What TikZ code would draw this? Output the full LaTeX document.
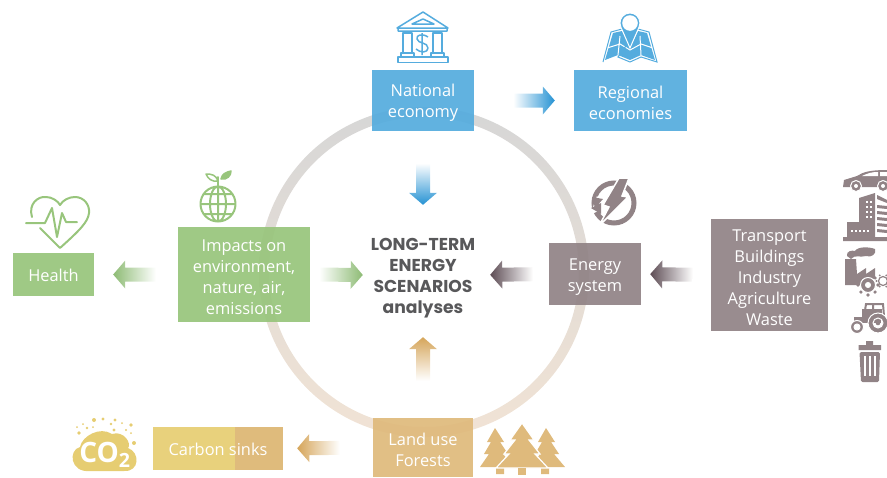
\documentclass[tikz,border=0pt]{standalone}
\usepackage{fontspec}
\setmainfont{Open Sans}
\newfontfamily\titlefont{Poppins}
\usetikzlibrary{calc}
\newcommand{\lift}[1]{\rule{0pt}{#1pt}}
\definecolor{blueBox}{HTML}{55ACDE}
\definecolor{blueFlow}{HTML}{2592D3}
\definecolor{greenBox}{HTML}{98C57C}
\definecolor{greenFlow}{HTML}{8DBB74}
\definecolor{greyBox}{HTML}{918386}
\definecolor{greyFlow}{HTML}{5E4D55}
\definecolor{tanBox}{HTML}{DFBA7C}
\definecolor{tanFlow}{HTML}{D5A55A}
\definecolor{yellowBox}{HTML}{E6CD72}
\definecolor{titleInk}{HTML}{58585A}
\tikzset{
  box/.style={fill opacity=.93,text opacity=1,text=white,align=center,inner sep=0pt,
    font=\fontsize{16.4}{21}\selectfont},
  flowleft/.style={left color=#1,right color=white},
  flowright/.style={right color=#1,left color=white},
  flowdown/.style={bottom color=#1,top color=white},
  flowup/.style={top color=#1,bottom color=white},
  flowarrow/.style n args={3}{to path={\pgfextra{
    \coordinate (ft) at ($(\tikztostart)!#1pt!(\tikztotarget)$);
    \coordinate (fh) at ($(\tikztotarget)!#2pt!(\tikztostart)$);
    \coordinate (fn) at ($(fh)!12pt!(ft)$);
    \shade[#3] ($(ft)!7pt!90:(fh)$) -- ($(fn)!7pt!90:(fh)$) -- ($(fn)!14pt!90:(fh)$) -- (fh)
      -- ($(fn)!14pt!-90:(fh)$) -- ($(fn)!7pt!-90:(fh)$) -- ($(ft)!7pt!-90:(fh)$) -- cycle;
  }}},
  blueline/.style={draw=blueBox,line width=1.5pt,line join=round,fill=none},
  greenline/.style={draw=greenBox,line width=2pt,line join=round,line cap=round,fill=none},
  greyshape/.style={fill=greyBox,draw=none},
  tanshape/.style={fill=tanBox,draw=none},
}
\begin{document}
\begin{tikzpicture}[x=1pt,y=-1pt]
  \useasboundingbox (0,0) rectangle (887,477);
  % ring behind the boxes
  \shade[top color=black!16,bottom color=brown!22!white,even odd rule]
    (424,272) circle (165) (424,272) circle (155);

  \node[box,fill=blueBox,minimum width=102pt,minimum height=61pt] (national) at (423,100.5) {\lift{17.5}National\\economy};
  \node[box,fill=blueBox,minimum width=113pt,minimum height=61pt] (regional) at (630.5,100.5) {\lift{17.5}Regional\\economies};
  \node[box,fill=greenBox,minimum width=132pt,minimum height=95pt] (impacts) at (244,274.5) {\lift{17.5}Impacts on\\environment,\\nature, air,\\emissions};
  \node[box,fill=greenBox,minimum width=81pt,minimum height=43pt] (health) at (53.5,274.5) {\lift{15}Health};
  \node[box,fill=greyBox,minimum width=92pt,minimum height=62pt] (energy) at (595,274) {\lift{17.5}Energy\\system};
  \node[box,fill=greyBox,minimum width=117pt,minimum height=112pt] (sectors) at (769.5,275) {\lift{17.5}Transport\\Buildings\\Industry\\Agriculture\\Waste};
  \node[box,fill=yellowBox,minimum width=130pt,minimum height=43pt,
    path picture={\fill[tanBox] ([xshift=82pt]path picture bounding box.south west) rectangle (path picture bounding box.north east);}]
    (carbon) at (218,448.5) {\lift{15}Carbon sinks};
  \node[box,fill=tanBox,minimum width=100pt,minimum height=59pt] (landuse) at (423,447.5) {\lift{17.5}Land use\\Forests};
  \node[align=center,inner sep=0pt,text=titleInk,minimum width=110pt,minimum height=100pt,
    font=\titlefont\fontsize{17.2}{21}\selectfont\bfseries] (title) at (423,275) {\lift{18.5}LONG-TERM\\ENERGY\\SCENARIOS\\analyses};

  \path[flowarrow={39}{19}{flowright=blueFlow}] (national.east) to (regional.west);
  \path[flowarrow={32}{20}{flowdown=blueFlow}] (national.south) to (title.north);
  \path[flowarrow={9}{5}{flowright=greenFlow}] (impacts.east) to (title.west);
  \path[flowarrow={22}{19}{flowleft=greenFlow}] (impacts.west) to (health.east);
  \path[flowarrow={16}{12}{flowleft=greyFlow}] (energy.west) to (title.east);
  \path[flowarrow={18}{9}{flowleft=greyFlow}] (sectors.west) to (energy.east);
  \path[flowarrow={37}{12}{flowup=tanFlow}] (landuse.north) to (title.south);
  \path[flowarrow={33}{14}{flowleft=tanFlow}] (landuse.west) to (carbon.east);

  % bank
  \draw[blueline] (397,28) -- (423,12) -- (448,28) -- cycle (398,28) -- (398,31) -- (447,31) -- (447,28);
  \draw[blueline] (412,24) -- (423,19) -- (434,24) -- cycle;
  \draw[blueline] (403,33) rectangle (412,53) (433,33) rectangle (442,53);
  \draw[blueline] (401,53) rectangle (414,57) (431,53) rectangle (444,57) (398,57) rectangle (448,62.5);
  \draw[blueline] (428,37) .. controls (422,33) and (416,35) .. (417,39) .. controls (418,44) and (428,42) .. (428,48)
    .. controls (428,53) and (420,53) .. (416,49) (422,33) -- (422,55);
  % map pin
  \fill[blueBox] (605,60) -- (613,33) -- (622,31) -- (630,47) -- (638,31) -- (647,33) -- (655,60) -- (641,55) -- (630,60) -- (618,55) -- cycle;
  \draw[white,line width=1pt] (607,48) -- (620,44) -- (630,50) -- (641,44) -- (653,48) (620,36) -- (618,55) (640,36) -- (641,55);
  \draw[blueBox,line width=1pt,line join=miter] (603,62) -- (611,32) -- (622,29) (638,29) -- (649,32) -- (657,62) -- (641,57) -- (630,62) -- (618,57) -- cycle;
  \fill[blueBox,draw=white,line width=1pt] (630,48) -- (620.9,27.2) arc[start angle=155,end angle=385,radius=10] -- cycle;
  \fill[white] (630,23) circle (7.8);
  % heart
  \draw[greenline] (32,217) .. controls (28,204) and (38,196) .. (46,197) .. controls (52,197) and (58,201) .. (60,205)
    .. controls (63,200) and (69,197) .. (75,197) .. controls (84,197) and (90,205) .. (89,213) .. controls (88,222) and (80,230) .. (60,248) -- (40,228);
  \draw[greenline] (26,223) -- (45,223) -- (52,208) -- (57,237) -- (62,213) -- (66,222) -- (77,222);
  % globe
  \draw[greenline] (218,204) circle (17.5) (218,204) ellipse (8 and 17.5) (218,186.5) -- (218,221.5) (201,204) -- (235,204)
    (204,194) -- (232,194) (204,214) -- (232,214);
  \draw[greenline] (218,186) -- (218,177);
  \draw[greenline,line width=1.5pt] (218,181) .. controls (216,175) and (212,174) .. (206,174) .. controls (208,179) and (212,182) .. (218,181);
  \draw[greenline,line width=1.5pt,fill=greenBox] (221,179) .. controls (222,174) and (226,172) .. (231,171) .. controls (231,176) and (227,180) .. (221,179);
  % lightning
  \draw[greyBox,line width=5pt] (614,203) circle (20);
  \fill[white] (597,196) -- (606,207) -- (590,215) -- cycle;
  \fill[greyBox] (592,197) -- (603,199) -- (595,208) -- cycle (591,208) -- (601,203) -- (601,214) -- cycle;
  \fill[greyBox,draw=white,line width=1.5pt] (619,178) -- (629,178) -- (622,196) -- (628,197) -- (599,226) -- (609,207) -- (603,205) -- cycle;
  % car
  \fill[greyBox] (843,187) -- (844,180) -- (857,176) .. controls (863,172) and (870,170) .. (887,170) -- (887,187) -- cycle;
  \fill[white] (862,176) .. controls (868,173) and (872,172) .. (878,172) -- (878,176) -- cycle (880,172) -- (887,172) -- (887,176) -- (880,176) -- cycle;
  \fill[greyBox,draw=white,line width=1pt] (856,186) circle (5.5) (883,186) circle (5.5);
  \fill[white] (856,186) circle (2) (883,186) circle (2);
  % building
  \fill[greyBox] (843,237) rectangle (887,241) (847,222) rectangle (860,237);
  \fill[greyBox] (859,237) -- (859,198) -- (875,193) -- (875,237) -- cycle (877,195) -- (887,200) -- (887,203) -- (877,199) -- cycle;
  \foreach \gx in {866,870} \foreach \gy in {201,206,211,216} \fill[white] (\gx,\gy) rectangle +(2,2);
  \foreach \gx in {851,855,859,863,867} \fill[white] (\gx,230) rectangle +(2,2);
  \foreach \gy in {205,211,217,223,229} \fill[greyBox] (877,\gy) -- (887,\gy+1) -- (887,\gy+4) -- (877,\gy+3) -- cycle;
  % factory
  \fill[greyBox] (845,285) -- (845,259) -- (856,259) -- (857,274) -- (866,268) -- (866,274) -- (875,268) -- (875,278) -- (862,285) -- cycle;
  \fill[greyBox] (847,256) .. controls (846,251) and (852,250) .. (855,251) .. controls (858,246) and (870,247) .. (875,249)
    .. controls (877,254) and (871,258) .. (866,256) .. controls (860,258) and (855,254) .. (851,259) -- cycle;
  \fill[greyBox,draw=white,line width=1pt,even odd rule] (868,285) circle (7.5) (868,285) circle (2.5);
  \foreach \ga in {0,45,...,315} \fill[greyBox] ($(868,285)+(\ga:10)$) circle (1.8);
  \draw[greyBox,line width=1.2pt] (883,281) circle (4.5);
  \foreach \ga in {0,60,...,300} \fill[greyBox] ($(883,281)+(\ga:6.5)$) circle (1.1);
  % tractor
  \draw[greyBox,line width=2pt] (864,317) -- (866,304) -- (883,304) -- (884,316) (873,304) -- (873,316);
  \fill[greyBox] (854,317) rectangle (881,323);
  \fill[greyBox] (862,309) -- (882,309) -- (882,318) -- (862,318) -- cycle;
  \fill[greyBox,draw=white,line width=1pt,even odd rule] (878,323) circle (10) (878,323) circle (5);
  \fill[greyBox] (878,323) circle (2.3);
  \fill[greyBox,draw=white,line width=1pt,even odd rule] (857,327) circle (6.5) (857,327) circle (3);
  % bin
  \fill[greyBox] (858.5,345) rectangle (881,350) (866,341) rectangle (873,346);
  \fill[greyBox,rounded corners=1.5pt] (859.5,352) -- (880,352) -- (879,382) -- (861,382) -- cycle;
  \foreach \gx in {865,870,875} \draw[white,line width=1.3pt] (\gx,356) -- (\gx,376);
  % co2 cloud
  \fill[yellowBox] (90,471) .. controls (70,473) and (68,450) .. (80,447) .. controls (82,436) and (100,426) .. (112,434)
    .. controls (124,430) and (132,444) .. (128,448) .. controls (140,452) and (140,472) .. (124,471) -- cycle;
  \foreach \dx/\dy/\dr in {83/424/1,94/420/2,103/419/1.6,111/424/1.3,115/420/1.6,122/423/1,131/425/1.8,114/430/1.6,126/430/1.2,131/433/1,134/443/2,87/428/1.3,79/433/1.8,93/427/1,77/427/1}
    \fill[yellowBox] (\dx,\dy) circle (\dr);
  \node[inner sep=0pt,text=white,font=\fontsize{28}{28}\selectfont\bfseries] (co2) at (105,455) {CO\textsubscript{2}};
  % trees
  \foreach \tx/\ty/\tw in {495/428/1,546/428/1}
    \fill[tanshape] (\tx,\ty) -- (\tx+9,\ty+14) -- (\tx+5,\ty+14) -- (\tx+13,\ty+26) -- (\tx+8,\ty+26) -- (\tx+19,\ty+39) -- (\tx-15,\ty+39) -- (\tx-6,\ty+26) -- (\tx-11,\ty+26) -- (\tx-4,\ty+14) -- (\tx-8,\ty+14) -- cycle;
  \fill[tanBox] (496,468) rectangle (504,474) (541,468) rectangle (549,474);
  \fill[tanBox,draw=white,line width=1.2pt] (522,423) -- (534,440) -- (529,440) -- (540,454) -- (535,454) -- (548,468) -- (496,468) -- (509,454) -- (504,454) -- (515,440) -- (510,440) -- cycle;
  \fill[tanBox] (518,468) rectangle (526,475);
\end{tikzpicture}
\end{document}
